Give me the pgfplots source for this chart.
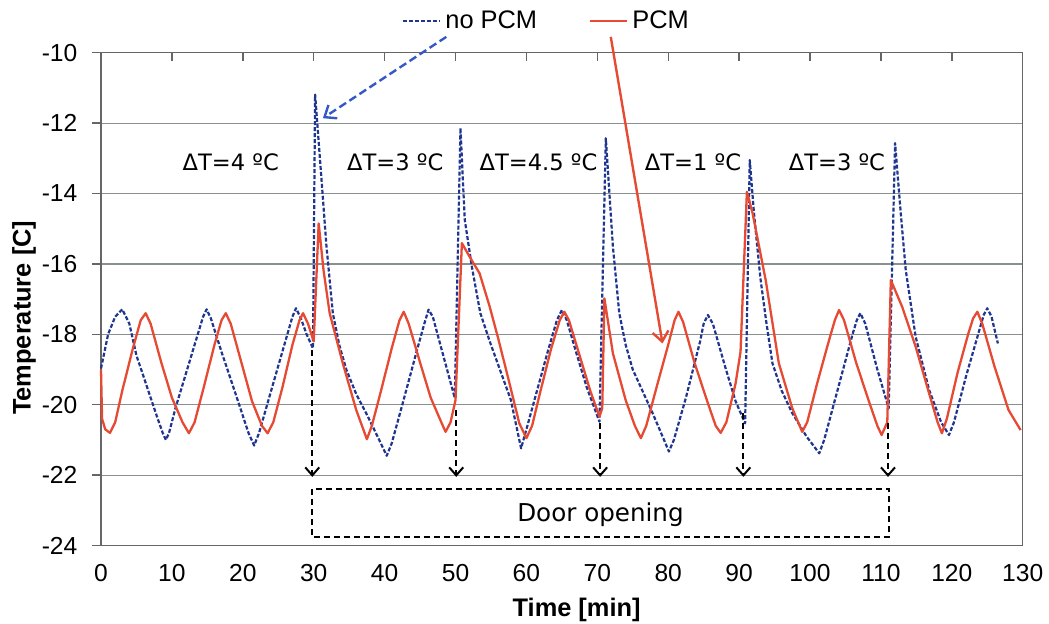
\documentclass[border=0pt]{standalone}
\usepackage{fontspec}
\setmainfont{Liberation Sans}
\newfontfamily\dejavu{DejaVu Sans}
\usepackage{pgfplots}
\usepackage{pgfplotstable}
\pgfplotsset{compat=1.18}
\usetikzlibrary{arrows.meta}
\definecolor{nopcm}{HTML}{1F3590}
\definecolor{pcm}{HTML}{E64A33}
\definecolor{arrblue}{HTML}{3558C8}
\definecolor{gridc}{HTML}{8A8F8F}

\pgfplotstableread{
t T
0 -18.97
1.0 -18.0
2.0 -17.5
3.0 -17.29
4.0 -17.7
5.0 -18.6
6.0 -19.2
7.0 -19.8
8.0 -20.4
8.7 -20.8
9.15 -21.0
9.6 -20.8
10.5 -20.1
12.0 -19.1
13.5 -18.1
14.4 -17.5
14.9 -17.29
15.5 -17.55
17.0 -18.5
19.0 -19.7
20.8 -20.8
21.6 -21.16
22.3 -20.8
24.0 -19.6
26.0 -18.2
27.0 -17.5
27.5 -17.26
28.2 -17.55
29.0 -18.0
29.9 -18.4
30.2 -11.19
31.1 -13.6
31.8 -15.5
32.7 -17.4
33.6 -18.3
34.6 -19.0
36.0 -19.7
37.4 -20.24
39.0 -20.9
40.3 -21.45
41.0 -21.1
42.5 -20.0
44.5 -18.5
45.6 -17.7
46.2 -17.3
46.8 -17.5
48.0 -18.4
49.9 -19.81
50.7 -12.14
51.3 -14.74
52.3 -16.07
53.5 -17.4
55.0 -18.3
55.9 -18.8
57.8 -19.86
59.25 -21.24
60.0 -20.7
61.5 -19.6
63.0 -18.5
64.3 -17.6
65.0 -17.31
65.7 -17.6
67.0 -18.5
68.5 -19.5
70.3 -20.48
71.2 -12.43
72.2 -15.51
73.1 -17.4
74.0 -18.3
75.0 -19.0
77.8 -20.24
79.2 -20.9
80.1 -21.33
80.8 -21.0
82.5 -19.8
84.5 -18.2
85.0 -17.7
85.6 -17.45
86.3 -17.7
88.0 -18.9
89.5 -19.9
90.85 -20.53
91.5 -13.05
92.1 -14.56
93.0 -16.4
93.8 -17.6
94.7 -18.82
96.0 -19.6
97.5 -20.24
99.5 -20.9
101.3 -21.38
102.0 -21.0
104.0 -19.5
106.0 -18.0
106.6 -17.6
107.1 -17.4
107.8 -17.7
109.5 -19.0
111.1 -20.1
112.0 -12.57
112.8 -14.56
113.5 -16.17
114.9 -18.07
116.8 -19.58
118.5 -20.5
119.6 -20.86
120.3 -20.5
122.0 -19.2
124.0 -17.8
124.5 -17.45
125.0 -17.26
125.6 -17.5
126.5 -18.26
}\noPCM

\pgfplotstableread{
t T
0 -19.0
0.15 -20.4
0.6 -20.7
1.27 -20.8
2.0 -20.5
3.0 -19.6
4.5 -18.4
5.6 -17.6
6.3 -17.4
7.0 -17.7
8.5 -18.8
10.0 -19.8
11.5 -20.5
12.4 -20.81
13.2 -20.5
14.5 -19.5
16.0 -18.3
17.0 -17.6
17.6 -17.4
18.3 -17.7
19.8 -18.8
21.3 -19.9
22.7 -20.6
23.5 -20.81
24.3 -20.5
25.6 -19.5
27.0 -18.3
28.0 -17.6
28.5 -17.4
29.2 -17.7
30.0 -18.2
30.7 -14.85
31.4 -16.2
32.25 -17.4
34.1 -18.82
36.0 -20.15
37.5 -20.98
38.2 -20.6
39.5 -19.6
41.0 -18.4
42.1 -17.6
42.7 -17.36
43.4 -17.7
45.0 -18.8
46.5 -19.8
48.0 -20.5
48.6 -20.77
49.3 -20.5
50.0 -19.87
50.9 -15.41
52.0 -15.8
53.4 -16.27
54.8 -17.2
56.0 -18.1
57.5 -19.3
59.0 -20.53
60.0 -20.95
60.8 -20.6
62.0 -19.6
63.5 -18.4
64.7 -17.6
65.35 -17.36
66.0 -17.6
67.5 -18.6
69.0 -19.6
70.3 -20.34
70.7 -20.1
71.0 -16.98
72.2 -18.54
74.0 -19.87
75.3 -20.6
76.15 -20.95
76.9 -20.6
78.5 -19.4
80.0 -18.3
80.9 -17.6
81.45 -17.36
82.1 -17.65
83.7 -18.8
85.5 -19.9
86.7 -20.6
87.4 -20.8
88.2 -20.5
89.5 -19.4
90.2 -18.5
91.1 -13.95
91.9 -14.56
93.75 -16.46
95.6 -18.82
97.5 -20.1
98.9 -20.77
99.6 -20.5
101.0 -19.4
102.5 -18.3
103.5 -17.6
104.1 -17.31
104.8 -17.6
106.5 -18.8
108.3 -19.9
109.5 -20.6
110.1 -20.86
110.9 -20.5
111.4 -16.46
113.0 -17.22
114.9 -18.35
116.8 -19.68
118.0 -20.5
118.6 -20.81
119.3 -20.4
120.8 -19.1
122.3 -18.0
123.0 -17.55
123.6 -17.36
124.3 -17.7
126.0 -18.9
128.0 -20.15
129.7 -20.72
}\PCMdata

\begin{document}
\begin{tikzpicture}
\path[use as bounding box] (-50.5pt,-38.75pt) rectangle (474pt,272.75pt);
\begin{axis}[
  at={(0,0)}, anchor=south west,
  scale only axis, width=460.85pt, height=246.4pt,
  xmin=0, xmax=130, ymin=-24, ymax=-10,
  xtick={0,10,...,130},
  ytick={-24,-22,-20,-18,-16,-14,-12,-10},
  yticklabels={-24,-22,-20,-18,-16,-14,-12,-10},
  xtick pos=right, xticklabel pos=left,
  ytick pos=left,
  xtick align=inside, ytick align=outside,
  major tick length=4.3pt,
  /pgf/number format/assume math mode=true,
  tick label style={font=\fontsize{12.3}{14}\selectfont, black},
  xticklabel style={yshift=-6pt},
  yticklabel style={xshift=-4pt},
  ymajorgrids, grid style={gridc, line width=0.6pt},
  axis line style={black!60, line width=0.7pt},
  tick style={black!60, line width=0.7pt},
  xlabel={\bfseries Time [min]},
  ylabel={\bfseries Temperature [C]},
  label style={font=\fontsize{12.7}{15}\selectfont},
  xlabel style={at={(axis description cs:0.516,0)}, anchor=north, yshift=-23pt},
  ylabel style={at={(axis description cs:0,0.462)}, anchor=center, yshift=38.5pt},
  clip=false,
  legend columns=2,
  legend style={at={(0.4845,1.065)}, anchor=center, draw=none, fill=none,
    font=\fontsize{12.7}{15}\selectfont,
    /tikz/every even column/.append style={column sep=24pt}},
  legend image code/.code={\draw[#1] (0cm,0cm) -- (0.65cm,0cm);},
]
\addplot[nopcm, line width=1.1pt, dash pattern=on 2pt off 1pt, line join=round] table[x=t,y=T] {\noPCM};
\addlegendentry{no PCM}
\addplot[pcm, line width=1.15pt, line join=round] table[x=t,y=T] {\PCMdata};
\addlegendentry{PCM}

% annotation arrows
\draw[arrblue, line width=1.2pt, dash pattern=on 4pt off 2pt, -{Straight Barb[length=5pt,width=8pt]}] (48.7,-9.55) -- (31.3,-11.86);
\draw[pcm, line width=1.2pt, -{Straight Barb[length=5pt,width=8pt]}] (71.9,-9.55) -- (79.2,-18.26);

% door opening arrows
\draw[black, line width=1pt, dash pattern=on 3pt off 2pt, -{Straight Barb[length=4pt,width=7pt]}] (29.8,-18.45) -- (29.8,-22.05);
\draw[black, line width=1pt, dash pattern=on 3pt off 2pt, -{Straight Barb[length=4pt,width=7pt]}] (50.1,-20.15) -- (50.1,-22.05);
\draw[black, line width=1pt, dash pattern=on 3pt off 2pt, -{Straight Barb[length=4pt,width=7pt]}] (70.4,-20.53) -- (70.4,-22.05);
\draw[black, line width=1pt, dash pattern=on 3pt off 2pt, -{Straight Barb[length=4pt,width=7pt]}] (90.6,-20.24) -- (90.6,-22.05);
\draw[black, line width=1pt, dash pattern=on 3pt off 2pt, -{Straight Barb[length=4pt,width=7pt]}] (111.0,-20.53) -- (111.0,-22.05);
\draw[black, line width=1pt, dash pattern=on 3pt off 2pt] (29.8,-22.39) rectangle (111.1,-23.77);
\node[font=\dejavu\fontsize{12.3}{14}\selectfont] at (70.45,-23.12) {Door opening};

% Delta T labels
\node[font=\dejavu\fontsize{11.3}{13}\selectfont] at (18.3,-13.1) {ΔT=4 ºC};
\node[font=\dejavu\fontsize{11.3}{13}\selectfont] at (41.5,-13.1) {ΔT=3 ºC};
\node[font=\dejavu\fontsize{11.3}{13}\selectfont] at (61.7,-13.1) {ΔT=4.5 ºC};
\node[font=\dejavu\fontsize{11.3}{13}\selectfont] at (83.5,-13.1) {ΔT=1 ºC};
\node[font=\dejavu\fontsize{11.3}{13}\selectfont] at (103.8,-13.1) {ΔT=3 ºC};
\end{axis}
\end{tikzpicture}
\end{document}
